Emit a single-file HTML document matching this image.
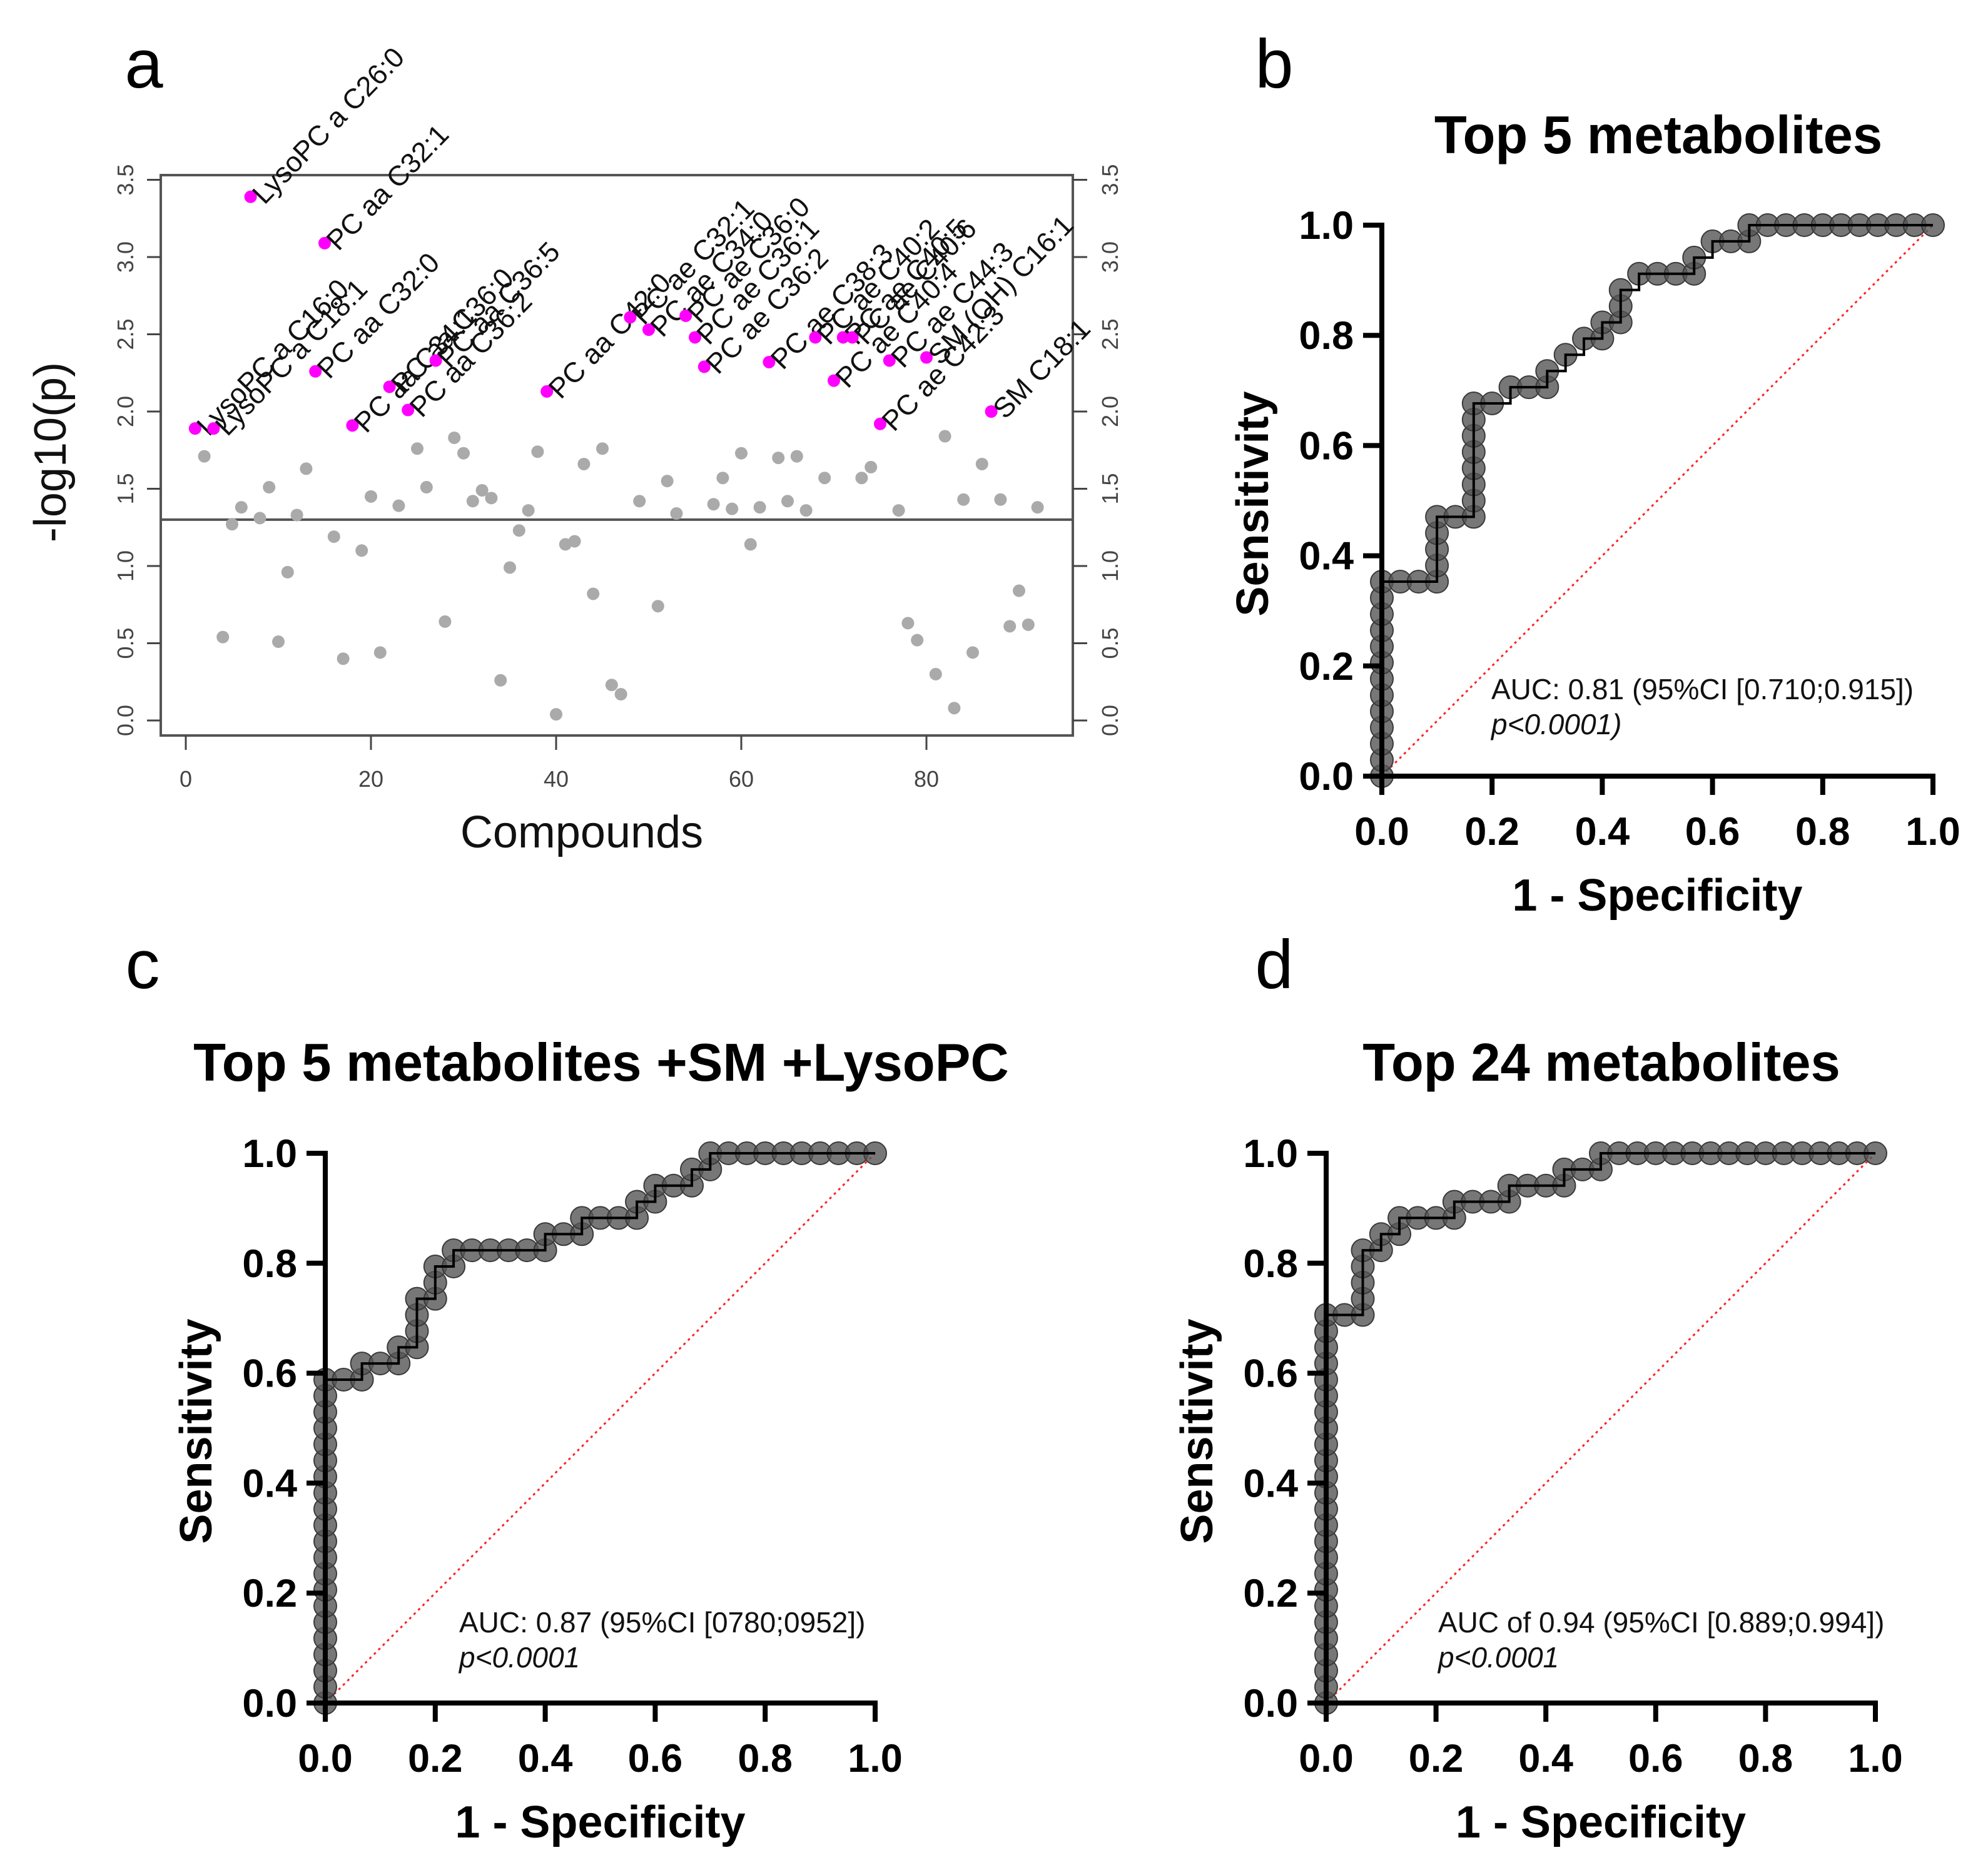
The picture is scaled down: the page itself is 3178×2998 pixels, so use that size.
<!DOCTYPE html>
<html><head><meta charset="utf-8"><style>
body{margin:0;background:#fff}
svg{display:block}
text{font-family:"Liberation Sans",Arial,sans-serif}
</style></head><body>
<svg id="fig" width="3178" height="2998" viewBox="0 0 3178 2998" xmlns="http://www.w3.org/2000/svg">
<rect width="3178" height="2998" fill="#fff"/>
</svg>
<script>
// ---- Panel a data ----
const grayIdx = [2,5,4,6,8,9,10,11,12,13,16,17,19,20,21,23,25,26,28,29,30,31,32,33,34,35,36,37,38,40,41,42,43,44,45,46,47,49,51,52,53,57,58,59,60,61,62,64,65,66,67,69,73,74,77,78,79,81,82,83,84,85,86,88,89,90,91,92];
const grayVal = [1.71,1.27,0.54,1.38,1.31,1.51,0.51,0.96,1.33,1.63,1.19,0.40,1.10,1.45,0.44,1.39,1.76,1.51,0.64,1.83,1.73,1.42,1.49,1.44,0.26,0.99,1.23,1.36,1.74,0.04,1.14,1.16,1.66,0.82,1.76,0.23,0.17,1.42,0.74,1.55,1.34,1.40,1.57,1.37,1.73,1.14,1.38,1.70,1.42,1.71,1.36,1.57,1.57,1.64,1.36,0.63,0.52,0.30,1.84,0.08,1.43,0.44,1.66,1.43,0.61,0.84,0.62,1.38];
const sigIdx = [1,3,7,15,14,18,22,24,27,39,48,50,54,55,56,63,68,71,72,70,75,76,80,87];
const sigVal = [1.89,1.89,3.39,3.09,2.26,1.91,2.16,2.01,2.33,2.13,2.61,2.53,2.62,2.48,2.29,2.32,2.48,2.48,2.48,2.20,1.92,2.33,2.35,2.00];
const sigLabels = ["LysoPC a C16:0","LysoPC a C18:1","LysoPC a C26:0","PC aa C32:1","PC aa C32:0","PC aa C34:1","PC aa C36:0","PC aa C36:2","PC aa C36:5","PC aa C42:0","PC ae C32:1","PC ae C34:0","PC ae C36:0","PC ae C36:1","PC ae C36:2","PC ae C38:3","PC ae C40:2","PC ae C40:5","PC ae C40:6","PC ae C40:4","PC ae C42:3","PC ae C44:3","SM (OH) C16:1","SM C18:1"];
const aYTicks = [0,0.5,1,1.5,2,2.5,3,3.5];
const aYTickLabels = ["0.0","0.5","1.0","1.5","2.0","2.5","3.0","3.5"];
const aXTicks = [0,20,40,60,80];
const threshold = 1.3;

// ---- ROC data (counts: negatives=30, positives=34) ----
const nNeg = 30, nPos = 34;
const bFP = [0,0,0,0,0,0,0,0,0,0,0,0,0,1,2,3,3,3,3,3,4,5,5,5,5,5,5,5,5,6,7,8,9,9,10,11,12,12,13,13,13,14,15,16,17,17,18,19,20,20,21,22,23,24,25,26,27,28,29,30];
const bTP = [0,1,2,3,4,5,6,7,8,9,10,11,12,12,12,12,13,14,15,16,16,16,17,18,19,20,21,22,23,23,24,24,24,25,26,27,27,28,28,29,30,31,31,31,31,32,33,33,33,34,34,34,34,34,34,34,34,34,34,34];
const cFP = [0,0,0,0,0,0,0,0,0,0,0,0,0,0,0,0,0,0,0,0,0,1,2,2,3,4,4,5,5,5,5,6,6,6,7,7,8,9,10,11,12,12,13,14,14,15,16,17,17,18,18,19,20,20,21,21,22,23,24,25,26,27,28,29,30];
const cTP = [0,1,2,3,4,5,6,7,8,9,10,11,12,13,14,15,16,17,18,19,20,20,20,21,21,21,22,22,23,24,25,25,26,27,27,28,28,28,28,28,28,29,29,29,30,30,30,30,31,31,32,32,32,33,33,34,34,34,34,34,34,34,34,34,34];
const dFP = [0,0,0,0,0,0,0,0,0,0,0,0,0,0,0,0,0,0,0,0,0,0,0,0,0,1,2,2,2,2,2,3,3,4,4,5,6,7,7,8,9,10,10,11,12,13,13,14,15,15,16,17,18,19,20,21,22,23,24,25,26,27,28,29,30];
const dTP = [0,1,2,3,4,5,6,7,8,9,10,11,12,13,14,15,16,17,18,19,20,21,22,23,24,24,24,25,26,27,28,28,29,29,30,30,30,30,31,31,31,31,32,32,32,32,33,33,33,34,34,34,34,34,34,34,34,34,34,34,34,34,34,34,34];
const rocTicks = [0,0.2,0.4,0.6,0.8,1.0];
const rocTickLabels = ["0.0","0.2","0.4","0.6","0.8","1.0"];

const NS = "http://www.w3.org/2000/svg";
const svg = document.getElementById('fig');
function el(tag, attrs, parent, txt){
  const e = document.createElementNS(NS, tag);
  for (const k in attrs) e.setAttribute(k, attrs[k]);
  if (txt !== undefined) e.textContent = txt;
  (parent || svg).appendChild(e);
  return e;
}

// ===== Panel a =====
const ga = el('g', {});


const ax = v => 297 + v * 14.8;
const ay = v => 1152 - v * (1152 - 287.5) / 3.5;
let t = el('text', {x: 230, y: 140, 'font-size': 110, 'text-anchor': 'middle'}, ga, 'a');
 
let box = el('rect', {x: 257, y: 280, width: 1458, height: 896, fill: 'none', stroke: '#555', 'stroke-width': 4}, ga);
 
aYTicks.forEach((v, i) => {
  const y = ay(v);
  const tl = el('line', {x1: 235, y1: y, x2: 257, y2: y, stroke: '#444', 'stroke-width': 3}, ga);
   
  const tr = el('line', {x1: 1715, y1: y, x2: 1738, y2: y, stroke: '#444', 'stroke-width': 3}, ga);
   
  const l1 = el('text', {x: 0, y: 0, transform: `translate(213,${y}) rotate(-90)`, 'font-size': 36, 'text-anchor': 'middle', fill: '#444'}, ga, aYTickLabels[i]);
   
  const l2 = el('text', {x: 0, y: 0, transform: `translate(1787,${y}) rotate(-90)`, 'font-size': 36, 'text-anchor': 'middle', fill: '#444'}, ga, aYTickLabels[i]);
   
});
aXTicks.forEach(v => {
  const x = ax(v);
  const tk = el('line', {x1: x, y1: 1176, x2: x, y2: 1199, stroke: '#444', 'stroke-width': 3}, ga);
   
  const lb = el('text', {x: x, y: 1258, 'font-size': 36, 'text-anchor': 'middle', fill: '#444'}, ga, String(v));
   
});
const th = el('line', {x1: 257, y1: ay(threshold), x2: 1715, y2: ay(threshold), stroke: '#555', 'stroke-width': 4}, ga);
 
grayIdx.forEach((c, i) => {
  const p = el('circle', {cx: ax(c), cy: ay(grayVal[i]), r: 10, fill: '#aaaaaa'}, ga);
   
});
sigIdx.forEach((c, i) => {
  const x = ax(c), y = ay(sigVal[i]);
  const p = el('circle', {cx: x, cy: y, r: 10, fill: '#ff00ff'}, ga);
   
  const lb = el('text', {x: 0, y: 0, transform: `translate(${x + 22},${y + 14}) rotate(-46)`, 'font-size': 45, fill: '#111'}, ga, sigLabels[i]);
   
});
t = el('text', {x: 930, y: 1355, 'font-size': 72, 'text-anchor': 'middle', fill: '#111'}, ga, 'Compounds');
 
t = el('text', {x: 0, y: 0, transform: 'translate(105,723) rotate(-90)', 'font-size': 72, 'text-anchor': 'middle', fill: '#111'}, ga, '-log10(p)');
 

// ===== ROC panels =====
function roc(cfg){
  const g = el('g', {});
  
  
  const X = v => cfg.x0 + v * (cfg.x1 - cfg.x0);
  const Y = v => cfg.y0 - v * (cfg.y0 - cfg.y1);
  let tt = el('text', {x: cfg.lx, y: cfg.ly, 'font-size': 110, 'text-anchor': 'middle'}, g, cfg.letter);
   
  tt = el('text', {x: cfg.tx, y: cfg.ty, 'font-size': 85, 'font-weight': 'bold', 'text-anchor': 'middle'}, g, cfg.title);
   
  const dg = el('line', {x1: X(0), y1: Y(0), x2: X(1), y2: Y(1), stroke: '#ff2020', 'stroke-width': 3, 'stroke-dasharray': '4 6'}, g);
   
  const fps = cfg.fp, tps = cfg.tp;
  fps.forEach((f, i) => {
    const c = el('circle', {cx: X(f / nNeg), cy: Y(tps[i] / nPos), r: 18, fill: '#555', 'fill-opacity': 0.8, stroke: '#3a3a3a', 'stroke-width': 2}, g);
     
  });
  let d = '';
  fps.forEach((f, i) => {
    const x = X(f / nNeg), y = Y(tps[i] / nPos);
    if (i === 0) d += `M${x},${y}`;
    else { d += `L${x},${Y(tps[i-1] / nPos)}L${x},${y}`; }
  });
  const ln = el('path', {d: d, fill: 'none', stroke: '#000', 'stroke-width': 4}, g);
   
  const ya = el('line', {x1: X(0), y1: Y(0) + 4, x2: X(0), y2: Y(1) - 4, stroke: '#000', 'stroke-width': 8}, g);
   
  const xa = el('line', {x1: X(0) - 30, y1: Y(0), x2: X(1) + 4, y2: Y(0), stroke: '#000', 'stroke-width': 8}, g);
   
  rocTicks.forEach((v, i) => {
    const ty = el('line', {x1: X(0) - 30, y1: Y(v), x2: X(0), y2: Y(v), stroke: '#000', 'stroke-width': 8}, g);
     
    const tx = el('line', {x1: X(v), y1: Y(0), x2: X(v), y2: Y(0) + 30, stroke: '#000', 'stroke-width': 8}, g);
     
    const ly = el('text', {x: X(0) - 45, y: Y(v) + 22, 'font-size': 63, 'font-weight': 'bold', 'text-anchor': 'end'}, g, rocTickLabels[i]);
     
    const lx = el('text', {x: X(v), y: Y(0) + 110, 'font-size': 63, 'font-weight': 'bold', 'text-anchor': 'middle'}, g, rocTickLabels[i]);
     
  });
  tt = el('text', {x: 0, y: 0, transform: `translate(${cfg.syx},${(Y(0) + Y(1)) / 2 + 5}) rotate(-90)`, 'font-size': 72, 'font-weight': 'bold', 'text-anchor': 'middle'}, g, 'Sensitivity');
   
  tt = el('text', {x: (X(0) + X(1)) / 2, y: Y(0) + 215, 'font-size': 72, 'font-weight': 'bold', 'text-anchor': 'middle'}, g, '1 - Specificity');
   
  tt = el('text', {x: cfg.ax, y: cfg.ay, 'font-size': 46, fill: '#111'}, g, cfg.auc);
   
  tt = el('text', {x: cfg.ax, y: cfg.ay + 56, 'font-size': 46, 'font-style': 'italic', fill: '#111'}, g, cfg.p);
   
}
roc({name: 'panel-b-roc', letter: 'b', lx: 2037, ly: 140, title: 'Top 5 metabolites', tx: 2651, ty: 245,
  x0: 2209, x1: 3090, y0: 1241, y1: 360, fp: bFP, tp: bTP, syx: 2027,
  auc: 'AUC: 0.81 (95%CI [0.710;0.915])', p: 'p<0.0001)', ax: 2384, ay: 1118});
roc({name: 'panel-c-roc', letter: 'c', lx: 228, ly: 1580, title: 'Top 5 metabolites +SM +LysoPC', tx: 961, ty: 1728,
  x0: 520, x1: 1399, y0: 2723, y1: 1844, fp: cFP, tp: cTP, syx: 338,
  auc: 'AUC: 0.87 (95%CI [0780;0952])', p: 'p<0.0001', ax: 734, ay: 2610});
roc({name: 'panel-d-roc', letter: 'd', lx: 2037, ly: 1580, title: 'Top 24 metabolites', tx: 2560, ty: 1728,
  x0: 2120, x1: 2998, y0: 2723, y1: 1844, fp: dFP, tp: dTP, syx: 1938,
  auc: 'AUC of 0.94 (95%CI [0.889;0.994])', p: 'p<0.0001', ax: 2299, ay: 2610});
</script>
</body></html>
